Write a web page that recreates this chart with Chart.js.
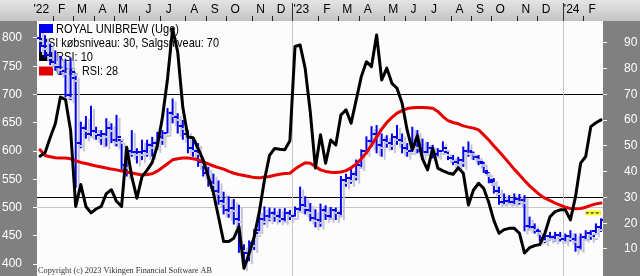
<!DOCTYPE html>
<html><head><meta charset="utf-8">
<script src="https://cdn.jsdelivr.net/npm/chart.js@4.4.1/dist/chart.umd.min.js"></script>
<style>html,body{margin:0;padding:0;background:#808080;overflow:hidden}canvas{display:block}</style>
</head><body>
<canvas id="c" width="640" height="276"></canvas>
<script>
// ---- data (weekly bars, ROYAL UNIBREW) ----
const high = [
 814,805,790,778,768,762,765,735,652,662,
 680,643,637,658,649,664,620,608,637,605,
 620,620,625,634,637,676,693,667,655,637,
 625,614,584,572,560,548,528,520,515,505,
 435,442,462,496,502,500,499,498,499,496,
 502,537,520,508,497,507,504,501,500,556,
 560,570,585,603,626,644,646,631,628,631,
 646,631,614,643,637,622,616,611,605,617,
 599,593,590,608,617,599,593,581,563,552,
 537,525,522,525,524,522,484,472,460,454,
 457,457,457,454,460,454,454,460,460,472,481];
const low = [
 775,765,752,742,735,695,690,535,605,622,
 625,620,611,608,614,608,566,555,590,578,
 584,590,590,602,611,631,649,631,620,596,
 590,572,555,537,522,505,488,482,470,420,
 393,405,425,458,470,476,475,474,475,478,
 484,494,488,476,465,466,478,478,478,483,
 537,542,548,570,595,607,596,590,606,602,
 611,596,590,598,596,590,596,587,590,599,
 584,575,572,572,590,584,575,561,543,525,
 505,505,505,505,505,458,460,454,440,437,
 442,440,440,437,440,422,425,443,443,454,457];
const open = [
 800,785,770,758,748,742,700,730,615,640,
 630,635,628,630,640,620,620,575,600,598,
 598,600,610,615,625,632,668,660,645,630,
 605,600,580,562,545,530,512,495,500,480,
 428,420,438,460,480,485,490,486,480,490,
 485,498,505,495,482,478,495,485,495,490,
 548,552,560,575,600,618,630,610,620,615,
 625,620,605,600,610,600,598,605,595,600,
 598,588,580,585,600,598,590,578,562,545,
 530,510,512,510,515,514,468,465,458,447,
 450,448,452,445,450,445,430,448,455,458,465];
const close = [
 785,770,758,748,742,700,740,615,640,630,
 635,628,630,640,620,625,575,600,598,598,
 600,610,615,625,632,668,660,645,630,605,
 600,580,562,545,530,512,495,500,480,428,
 420,438,455,480,485,490,486,480,490,485,
 498,505,495,482,478,495,485,495,490,548,
 552,560,575,600,618,630,610,620,615,625,
 620,605,600,610,600,598,605,595,600,605,
 588,580,585,600,600,590,580,565,548,530,
 510,512,510,515,514,468,465,460,447,450,
 448,452,445,450,445,430,448,455,450,465,478];
const rsi = [
 46,47.4,53.3,58.6,69,68,56,26.5,35,26.5,
 24,25.5,26.5,31.5,33,28.5,26.5,49.5,38,29.7,
 38.1,40.6,43.6,50,61,76,95.5,86.5,65,53.5,
 53.2,49,44.5,38,31.8,22.4,12.9,12.9,14.2,18.7,
 2.5,8.2,14.8,24.4,36.7,46.3,49,48.7,48.5,52,
 88.6,89.2,80,63,41.4,54.3,43.3,52.3,50.4,62,
 64,58.8,67.9,76.9,82.7,80.8,93.1,75.6,80.2,74.3,
 72.4,66.6,56,48.5,54,45,40.7,49.1,41.4,40.3,
 39.5,39,41.5,39.4,27.1,32.9,35.5,33.5,28,21,
 16.1,17.5,18,18,16.1,8.4,10.5,11.3,11.7,16.1,
 22.5,24.5,25.2,25.2,21.3,30.3,43.3,45.9,57.5,59,60.1];
const rsiAvg = [
 48.5,46.3,45.8,45.4,45.3,45.3,45,44.3,43.6,43.2,
 42.7,42.2,41.8,41.4,41,40.7,40.3,39.9,39.5,39.1,
 38.7,38.9,39.2,40.2,41.6,43.1,44.6,45,45.3,45.3,
 45,44.6,43.8,43,42.2,41.6,41,40.1,39.4,38.9,
 38.5,38.1,37.7,37.6,37.9,38.1,38.6,39,39.3,39.4,
 41,42.3,43.5,43.3,42,40.7,40.1,39.8,39.7,39.9,
 40.4,41.5,43,45,47.4,50.3,53.4,56.5,59.1,61.1,
 62.7,63.7,64.5,64.8,64.9,64.9,64.8,64.6,63.4,61.4,
 59.8,59.1,58.6,57.8,57.3,56.9,56.2,54.3,52.3,50,
 47.8,45.6,43.3,40.9,38.8,36.6,34.5,32.7,31,29.7,
 28.8,27.8,27,26.2,25.7,25.6,25.7,26.2,26.9,27.5,27.8];
const markerLevel = [24];
const monthLabels = ["'22","F","M","A","M","J","J","A","S","O","N","D",
                     "'23","F","M","A","M","J","J","A","S","O","N","D","'24","F"];
const monthStartWeek = [-1,3,7,11,15,20,24,29,33,37,42,46,
                        50,55,59,63,68,72,76,81,85,89,94,98,103,107];
const yearStartWeek = [50,103];
const priceTicks = [400,450,500,550,600,650,700,750,800];
const rsiTicks = [10,20,30,40,50,60,70,80,90];
const rsiLevels = [30,70];
const priceGrid = [500];
const legendTexts = ['ROYAL UNIBREW (Uge)','RSI købsniveau: 30, Salgsniveau: 70','RSI: 10','Gns. RSI: 28'];

// ---- build ----
const weeks = high.map((_, i) => i);
const BLUE = '#0000ee';
const FONT = "'Liberation Sans',Arial,sans-serif";

function tickImg(side) {
  const c = document.createElement('canvas');
  c.width = 8; c.height = 2;
  const g = c.getContext('2d');
  g.fillStyle = BLUE;
  if (side < 0) g.fillRect(0, 0, 3, 2); else g.fillRect(5, 0, 3, 2);
  return c;
}
function noPad(s) { s.paddingTop = 0; s.paddingBottom = 0; s.paddingLeft = 0; s.paddingRight = 0; }

const decor = {
  id: 'decor',
  beforeDraw(chart) {
    const {ctx, chartArea: a, width, height} = chart;
    ctx.save();
    ctx.fillStyle = '#808080'; ctx.fillRect(0, 0, width, height);
    const g = ctx.createLinearGradient(0, 0, 0, a.top);
    g.addColorStop(0, '#e4e4e4'); g.addColorStop(1, '#c4c4c4');
    ctx.fillStyle = g; ctx.fillRect(0, 0, width, a.top);
    ctx.fillStyle = '#fcfcfc'; ctx.fillRect(a.left, a.top, a.right - a.left, a.bottom - a.top);
    ctx.restore();
  },
  beforeDatasetsDraw(chart) {
    const {ctx, chartArea: a} = chart;
    const xs = chart.scales.x;
    ctx.save();
    ctx.lineWidth = 1;
    ctx.strokeStyle = '#202020';
    monthStartWeek.forEach(m => {
      const v = m - 0.5;
      if (v < xs.min || v > xs.max) return;
      const px = Math.round(xs.getPixelForValue(v)) + 0.5;
      ctx.beginPath(); ctx.moveTo(px, 16); ctx.lineTo(px, a.top); ctx.stroke();
    });
    yearStartWeek.forEach(m => {
      const px = Math.round(xs.getPixelForValue(m - 0.5)) + 0.5;
      ctx.strokeStyle = '#303030';
      ctx.beginPath(); ctx.moveTo(px, 3); ctx.lineTo(px, a.top); ctx.stroke();
      ctx.strokeStyle = '#c8c8c8';
      ctx.beginPath(); ctx.moveTo(px, a.top); ctx.lineTo(px, a.bottom); ctx.stroke();
    });
    const icons = [BLUE, null, '#000000', '#e00000'];
    const rowY = [28.5, 43, 56.5, 71];
    const textX = [56, 40, 56, 56];
    const textW = [123, 179, 37, 62];
    ctx.font = '13px ' + FONT;
    ctx.textBaseline = 'middle';
    legendTexts.forEach((t, k) => {
      if (icons[k]) { ctx.fillStyle = icons[k]; ctx.fillRect(39, rowY[k] - 4.5, 14, 9); }
      ctx.fillStyle = '#000';
      const w = ctx.measureText(t).width;
      ctx.save();
      ctx.translate(textX[k], rowY[k] + 0.5);
      ctx.scale(textW[k] / w, 1);
      ctx.fillText(t, 0, 0);
      ctx.restore();
    });
    const cr = 'Copyright (c) 2023 Vikingen Financial Software AB';
    ctx.font = "9px 'Liberation Serif','DejaVu Serif',serif";
    ctx.fillStyle = '#303030';
    ctx.textBaseline = 'alphabetic';
    const cw = ctx.measureText(cr).width;
    ctx.save(); ctx.translate(38, 272.5); ctx.scale(174 / cw, 1); ctx.fillText(cr, 0, 0); ctx.restore();
    ctx.restore();
  },
  beforeDatasetDraw(chart, args) {
    const ds = chart.data.datasets[args.index];
    if (ds.shadow) {
      const ctx = chart.ctx;
      ctx.save();
      ctx.shadowColor = '#c4c4dc';
      ctx.shadowOffsetX = 3; ctx.shadowOffsetY = 3; ctx.shadowBlur = 0;
    }
  },
  afterDatasetDraw(chart, args) {
    if (chart.data.datasets[args.index].shadow) chart.ctx.restore();
  }
};

new Chart(document.getElementById('c'), {
  type: 'bar',
  data: {
    datasets: [
      { type: 'line', label: 'marker', data: weeks.slice(-4).map(i => ({x: i, y: markerLevel[0]})),
        yAxisID: 'y1', borderColor: '#000', borderWidth: 1, borderDash: [3, 2], pointRadius: 0, order: 0 },
      { type: 'line', label: 'markerBg', data: weeks.slice(-4).map(i => ({x: i, y: markerLevel[0]})),
        yAxisID: 'y1', borderColor: '#ffff30', borderWidth: 5, pointRadius: 0, order: 1 },
      { type: 'line', label: 'RSI', data: weeks.map(i => ({x: i, y: rsi[i]})), yAxisID: 'y1',
        borderColor: '#000', borderWidth: 3, pointRadius: 0, tension: 0,
        borderJoinStyle: 'round', borderCapStyle: 'round', order: 2 },
      { type: 'line', label: 'Gns. RSI', data: weeks.map(i => ({x: i, y: rsiAvg[i]})), yAxisID: 'y1',
        borderColor: '#e80000', borderWidth: 3, pointRadius: 0, tension: 0,
        borderJoinStyle: 'round', borderCapStyle: 'round', order: 3 },
      { type: 'line', label: 'open', data: weeks.map(i => ({x: i, y: open[i]})), yAxisID: 'y',
        showLine: false, pointStyle: tickImg(-1), pointRadius: 2, pointHoverRadius: 2, shadow: true, order: 4 },
      { type: 'line', label: 'close', data: weeks.map(i => ({x: i, y: close[i]})), yAxisID: 'y',
        showLine: false, pointStyle: tickImg(1), pointRadius: 2, pointHoverRadius: 2, shadow: true, order: 5 },
      { type: 'bar', label: 'ROYAL UNIBREW', data: weeks.map(i => ({x: i, y: [low[i], high[i]]})), yAxisID: 'y',
        backgroundColor: BLUE, borderWidth: 0, barThickness: 2, inflateAmount: 0, grouped: false, shadow: true, order: 6 }
    ]
  },
  options: {
    responsive: false, animation: false, devicePixelRatio: 1, events: [],
    layout: { padding: 0, autoPadding: false },
    plugins: { legend: { display: false }, tooltip: { enabled: false } },
    scales: {
      x: {
        type: 'linear', position: 'top', min: -0.59, max: weeks.length - 1 + 0.39, offset: false,
        grid: { display: false, drawTicks: false }, border: { display: false },
        afterBuildTicks: s => { s.ticks = monthStartWeek.map(m => ({value: m + 1.25})); },
        ticks: { autoSkip: false, maxRotation: 0, minRotation: 0, padding: 4, color: '#000',
                 font: { family: FONT, size: 12 }, callback: (v, i) => monthLabels[i] },
        afterFit: s => { s.height = 21; noPad(s); }
      },
      y: {
        type: 'linear', position: 'left', min: 379, max: 830,
        grid: { color: c => (c.tick && priceGrid.includes(c.tick.value)) ? '#c8c8c8' : 'rgba(0,0,0,0)',
                tickColor: '#ffffff', tickLength: 4 },
        border: { display: false },
        afterBuildTicks: s => { s.ticks = priceTicks.map(v => ({value: v})); },
        ticks: { color: '#ffffff', padding: 11, font: { family: FONT, size: 12 } },
        afterFit: s => { s.width = 37; noPad(s); }
      },
      y1: {
        type: 'linear', position: 'right', min: -0.5, max: 98.5,
        grid: { color: c => (c.tick && rsiLevels.includes(c.tick.value)) ? '#000000' : 'rgba(0,0,0,0)',
                tickColor: '#ffffff', tickLength: 4 },
        border: { display: false },
        afterBuildTicks: s => { s.ticks = rsiTicks.map(v => ({value: v})); },
        ticks: { color: '#ffffff', padding: 17, font: { family: FONT, size: 12 } },
        afterFit: s => { s.width = 37; noPad(s); }
      }
    }
  },
  plugins: [decor]
});
</script>
</body></html>
